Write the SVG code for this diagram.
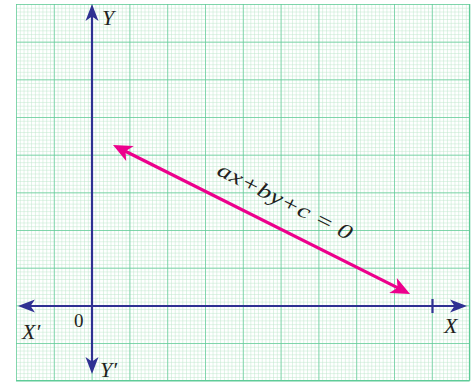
<svg xmlns="http://www.w3.org/2000/svg" width="474" height="384" viewBox="0 0 474 384">
<defs>
<style>
.minor{stroke:#bde7cb;stroke-width:1;fill:none}
.major{stroke:#5fcb98;stroke-width:1.4;fill:none}
.axis{stroke:#2e3192;stroke-width:2.2;fill:none}
.axhead{fill:#2e3192}
.lbl{font-family:"Liberation Serif",serif;font-style:italic;font-size:22px;fill:#231f20}
.num{font-family:"Liberation Serif",serif;font-size:19px;fill:#231f20}
.eq{font-family:"Liberation Serif",serif;font-style:italic;font-size:21px;fill:#231f20}
</style>
<pattern id="minorGrid" x="16" y="4" width="3.78" height="3.767" patternUnits="userSpaceOnUse">
<path class="minor" d="M0,0 V3.767 M0,0 H3.78"/>
</pattern>
<pattern id="majorGrid" x="16" y="4" width="37.8" height="37.67" patternUnits="userSpaceOnUse">
<path class="major" d="M0,0 V37.67 M0,0 H37.8"/>
</pattern>
</defs>
<rect width="474" height="384" fill="#ffffff"/>
<g id="grid">
<rect x="16" y="4" width="453.6" height="376.7" fill="url(#minorGrid)"/>
<rect x="16" y="4" width="453.6" height="376.7" fill="url(#majorGrid)"/>
<path class="major" d="M469.6,4 V380.7 M16,380.7 H469.6"/>
</g>
<g id="connectors">
<g id="y-axis">
<path class="axis" d="M92,14 V366"/>
<path class="axhead" d="M92,4 L98.5,21 L92,16.5 L85.5,21 Z"/>
<path class="axhead" d="M92,374 L98.5,357 L92,361.5 L85.5,357 Z"/>
</g>
<g id="x-axis">
<path class="axis" d="M26,306 H459"/>
<path class="axhead" d="M18,306 L35,299.5 L30.5,306 L35,312.5 Z"/>
<path class="axhead" d="M467,306 L450,299.5 L454.5,306 L450,312.5 Z"/>
<path class="axis" d="M432.5,299 V313"/>
</g>
<g id="line" transform="translate(113,145) rotate(26.64)">
<path d="M10,0 H322" stroke="#ec008c" stroke-width="3.2" fill="none"/>
<path d="M0,0 L19,-8.5 L14,0 L19,8.5 Z" fill="#ec008c"/>
<path d="M332.3,0 L313.3,-8.5 L318.3,0 L313.3,8.5 Z" fill="#ec008c"/>
<text class="eq" x="105" y="-20" textLength="148" lengthAdjust="spacingAndGlyphs">ax+by+c = 0</text>
</g>
</g>
<g id="labels">
<text class="lbl" x="102" y="25">Y</text>
<text class="lbl" x="22" y="339">X′</text>
<text class="num" x="74" y="327">0</text>
<text class="lbl" x="100" y="377">Y′</text>
<text class="lbl" x="444" y="333">X</text>
</g>
</svg>
